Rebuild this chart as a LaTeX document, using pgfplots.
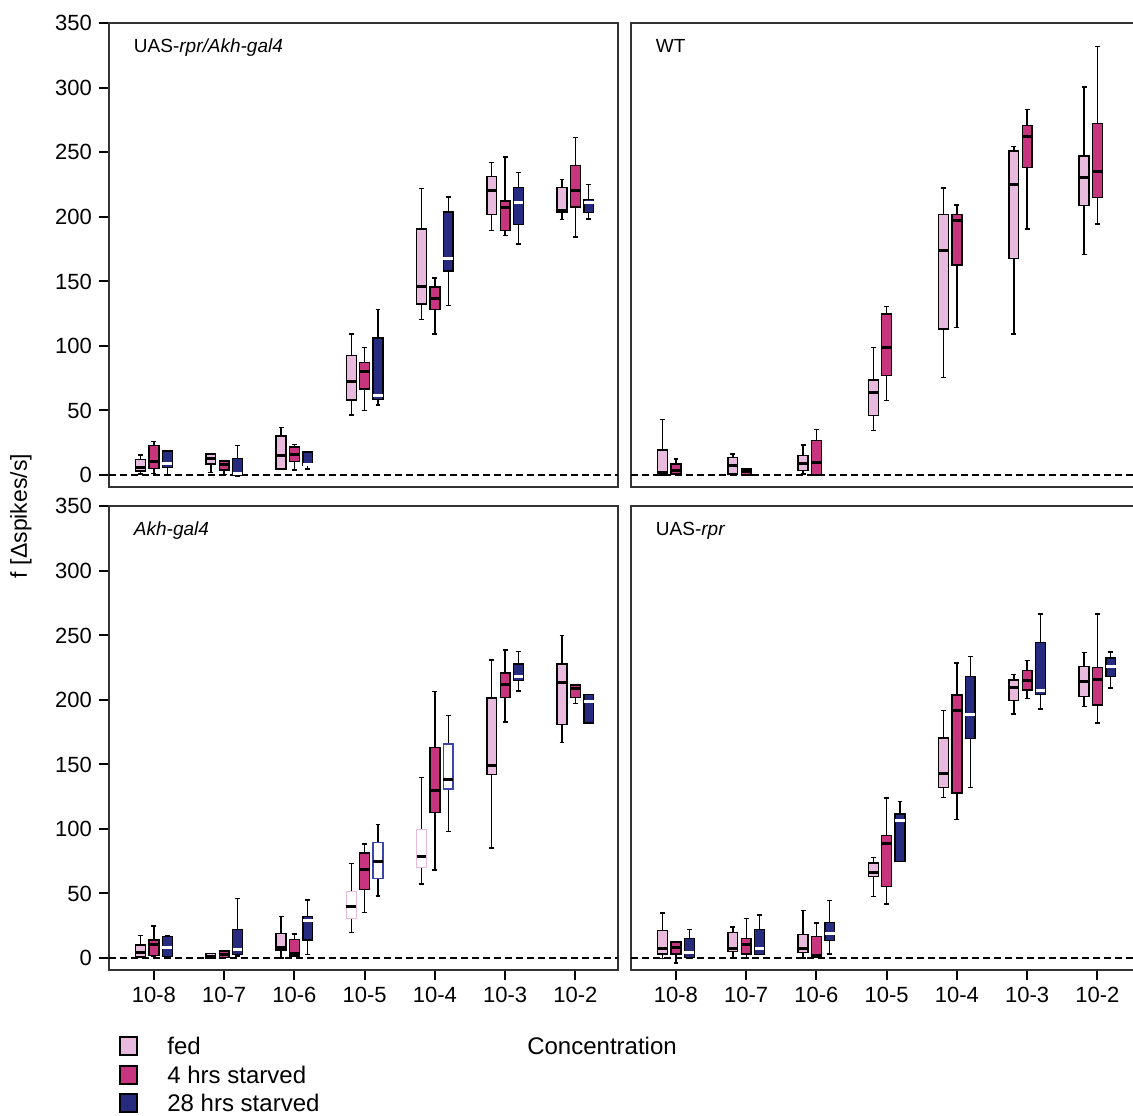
\documentclass[border=0pt]{standalone}
\usepackage{fontspec}
\setmainfont{Liberation Sans}
\usepackage{pgfplots}
\pgfplotsset{compat=1.18}
\usepgfplotslibrary{statistics}

\definecolor{fedc}{RGB}{232,186,222}
\definecolor{st4c}{RGB}{200,53,127}
\definecolor{st28c}{RGB}{38,43,128}
\definecolor{outblue}{RGB}{60,70,170}

\pgfplotsset{
  panel/.style={
    scale only axis, width=254.25pt, height=231.8pt,
    xmin=0.36, xmax=7.6, ymin=-9.3, ymax=350,
    axis line style={line width=1pt, black!80},
    tick style={line width=1pt, black},
    tick align=outside, major tick length=5pt,
    xtick={1,...,7},
    xticklabels={10-8,10-7,10-6,10-5,10-4,10-3,10-2},
    ytick={0,50,...,350},
    xtick pos=lower, ytick pos=left,
    tick label style={font=\fontsize{11}{13}\selectfont},
    /pgf/number format/assume math mode=true,
    boxplot/draw direction=y,
    boxplot/box extend=0.14, boxplot/whisker extend=0.07,
  },
  fed/.style={fill=fedc, draw=black, line width=0.7pt,
    boxplot/every median/.style={draw=black, line width=1.5pt},
    boxplot/every whisker/.style={draw=black}},
  st4/.style={fill=st4c, draw=black, line width=0.7pt,
    boxplot/every median/.style={draw=black, line width=1.5pt},
    boxplot/every whisker/.style={draw=black}},
  st28/.style={fill=st28c, draw=black, line width=0.7pt,
    boxplot/every median/.style={draw=white, line width=1.5pt},
    boxplot/every whisker/.style={draw=black}},
  fedo/.style={fill=white, draw=fedc, line width=0.7pt,
    boxplot/every median/.style={draw=black, line width=1.5pt},
    boxplot/every whisker/.style={draw=black}},
  st28o/.style={fill=white, draw=outblue, line width=0.7pt,
    boxplot/every median/.style={draw=black, line width=1.5pt},
    boxplot/every whisker/.style={draw=black}},
}

% style, position, lower whisker, lower quartile, median, upper quartile, upper whisker
\newcommand\bx[7]{\addplot[#1, boxplot prepared={draw direction=y, draw position=#2,
  lower whisker=#3, lower quartile=#4, median=#5,
  upper quartile=#6, upper whisker=#7}] coordinates {};}
\newcommand\zeroline{\addplot[black, mark=none, line width=0.9pt,
  dash pattern=on 3.5pt off 2pt] coordinates {(0.36,0) (7.6,0)};}
\newcommand\ttl[1]{\node[anchor=base west, inner sep=0,
  font=\fontsize{9.5}{11}\selectfont] at (axis cs:0.71,327.5) {#1};}

\begin{document}
\begin{tikzpicture}
\useasboundingbox (0,0) rectangle (566.5pt,557.5pt);
\clip (0,0) rectangle (566.5pt,557.5pt);

% UAS-rpr/Akh-gal4
\begin{axis}[panel, at={(54.5pt,314pt)}, anchor=south west, xtick=\empty]
\zeroline
\bx{fed}{0.81}{0.8}{3.1}{6}{12.2}{15.5}
\bx{st4}{1.0}{1.3}{4.9}{10.8}{22.7}{25.8}
\bx{st28}{1.19}{0.5}{5.7}{9}{18.6}{18.6}
\bx{fed}{1.81}{1.8}{8.5}{12.6}{16.3}{16.5}
\bx{st4}{2.0}{0.5}{3.9}{8}{11}{11}
\bx{st28}{2.19}{-1}{0}{0.8}{12.6}{23}
\bx{fed}{2.81}{4.6}{4.6}{15}{30.2}{36.6}
\bx{st4}{3.0}{3.9}{10.3}{16}{21.7}{23.8}
\bx{st28}{3.19}{4.6}{7.5}{8.5}{17.8}{17.8}
\bx{fed}{3.81}{46.5}{58.1}{72.8}{92.4}{109.2}
\bx{st4}{4.0}{49.8}{66.6}{80}{87}{98.9}
\bx{st28}{4.19}{54.2}{58.6}{62}{106.3}{128.3}
\bx{fed}{4.81}{120.6}{132.4}{145.8}{190.7}{222}
\bx{st4}{5.0}{109.2}{128.3}{136.5}{145.6}{152.8}
\bx{st28}{5.19}{131.4}{158}{167.8}{203.7}{215.5}
\bx{fed}{5.81}{189.7}{201.9}{220.4}{231.3}{242.4}
\bx{st4}{6.0}{185.8}{189.7}{207}{212.5}{246.5}
\bx{st28}{6.19}{179.1}{194.1}{210.9}{222.8}{234.6}
\bx{fed}{6.81}{198.2}{203.9}{205}{222.8}{229.2}
\bx{st4}{7.0}{184.5}{207.8}{220.7}{240}{261.7}
\bx{st28}{7.19}{198.5}{203.4}{210.9}{213.5}{225.3}
\ttl{UAS-\textit{rpr/Akh-gal4}}
\end{axis}

% WT
\begin{axis}[panel, at={(315.5pt,314pt)}, anchor=south west, xtick=\empty, ytick=\empty]
\zeroline
\bx{fed}{0.81}{0}{0}{1.8}{19.4}{43.1}
\bx{st4}{1.0}{0.8}{0.8}{3.4}{8.5}{12.4}
\bx{fed}{1.81}{0}{0.8}{7.5}{13.7}{16.3}
\bx{st4}{2.0}{0}{0}{2.6}{4.6}{4.6}
\bx{fed}{2.81}{0.8}{3.4}{9}{15}{23.2}
\bx{st4}{3.0}{0}{0}{9.8}{26.6}{35.4}
\bx{fed}{3.81}{34.3}{45.9}{63.8}{73.6}{98.6}
\bx{st4}{4.0}{57.6}{76.9}{98.6}{124.7}{130.4}
\bx{fed}{4.81}{75.6}{113.1}{173.7}{201.9}{222.5}
\bx{st4}{5.0}{114.1}{162.6}{197.5}{202.1}{209.1}
\bx{fed}{5.81}{109.2}{167.8}{225}{251.1}{254.8}
\bx{st4}{6.0}{190.5}{238.4}{262}{271}{283.2}
\bx{fed}{6.81}{170.9}{209}{230.2}{247.3}{300.7}
\bx{st4}{7.0}{194.4}{215}{235.4}{272.3}{332.2}
\ttl{WT}
\end{axis}

% Akh-gal4
\begin{axis}[panel, at={(54.5pt,72.5pt)}, anchor=south west]
\zeroline
\bx{fed}{0.81}{0.4}{1.2}{4.5}{10.2}{17.4}
\bx{st4}{1.0}{1}{1.9}{10.2}{14.1}{24.9}
\bx{st28}{1.19}{0.4}{1.2}{8.4}{16.6}{17.4}
\bx{fed}{1.81}{-0.6}{-0.6}{1.5}{3.7}{3.7}
\bx{st4}{2.0}{0.2}{0.2}{2.8}{5.3}{5.3}
\bx{st28}{2.19}{1.7}{2.7}{6.3}{22.3}{46}
\bx{fed}{2.81}{0}{6.3}{8.4}{19}{32.1}
\bx{st4}{3.0}{1}{1.7}{3.2}{14.3}{18.7}
\bx{st28}{3.19}{2.5}{14.1}{29}{32.4}{45}
\bx{fedo}{3.81}{19.7}{30.8}{39.9}{51.7}{73.4}
\bx{st4}{4.0}{35.2}{53}{68.3}{81.4}{88.4}
\bx{st28o}{4.19}{48.2}{61.6}{74.5}{89.4}{103.4}
\bx{fedo}{4.81}{57.5}{70.3}{78.4}{99.5}{140}
\bx{st4}{5.0}{68.3}{112.9}{129.5}{163.2}{206.4}
\bx{st28o}{5.19}{98.2}{131}{138.5}{165.9}{188}
\bx{fed}{5.81}{85.3}{142.1}{149.3}{201.5}{230.9}
\bx{st4}{6.0}{182.9}{202}{211.6}{220.8}{238.7}
\bx{st28}{6.19}{206.9}{214.9}{218}{227.8}{237.6}
\bx{fed}{6.81}{166.9}{180.8}{213.9}{227.8}{250}
\bx{st4}{7.0}{197.3}{202}{208.5}{211.6}{211.6}
\bx{st28}{7.19}{182.1}{182.1}{198.9}{204}{204}
\ttl{\textit{Akh-gal4}}
\end{axis}

% UAS-rpr
\begin{axis}[panel, at={(315.5pt,72.5pt)}, anchor=south west, ytick=\empty]
\zeroline
\bx{fed}{0.81}{-0.5}{3.2}{7.6}{21.3}{35}
\bx{st4}{1.0}{-4}{3.2}{8.4}{12.5}{12.5}
\bx{st28}{1.19}{0.6}{0.6}{4.5}{14.9}{22.1}
\bx{fed}{1.81}{0}{5}{7.1}{20}{23.9}
\bx{st4}{2.0}{0}{3.2}{10.2}{14.9}{30.8}
\bx{st28}{2.19}{2.7}{2.7}{7.1}{22.1}{33.4}
\bx{fed}{2.81}{0}{4.5}{7.6}{18}{36.8}
\bx{st4}{3.0}{0.6}{0.6}{1.9}{16.6}{27}
\bx{st28}{3.19}{3.2}{13.5}{18.7}{27.7}{44.5}
\bx{fed}{3.81}{47.6}{63.1}{66.5}{73.7}{78}
\bx{st4}{4.0}{42}{55.4}{88.9}{94.9}{124}
\bx{st28}{4.19}{75}{75}{106.5}{111.7}{121.4}
\bx{fed}{4.81}{124.5}{132.3}{143.1}{170.5}{191.7}
\bx{st4}{5.0}{107.2}{127.9}{192.2}{203.8}{228.6}
\bx{st28}{5.19}{132.3}{170.2}{189.1}{218}{233.7}
\bx{fed}{5.81}{189.1}{199.4}{209.5}{215.4}{219.5}
\bx{st4}{6.0}{200.9}{207.7}{214.9}{222.6}{230.4}
\bx{st28}{6.19}{193}{204}{207.1}{244.5}{266.5}
\bx{fed}{6.81}{194.7}{202.7}{214.3}{225.7}{236.8}
\bx{st4}{7.0}{182.1}{196.1}{216.2}{225.2}{266.5}
\bx{st28}{7.19}{209.2}{218}{226}{232.5}{237.3}
\ttl{UAS-\textit{rpr}}
\end{axis}

\node[rotate=90, font=\fontsize{11.5}{13}\selectfont] at (10.5pt,299.5pt) {f [Δspikes/s]};
\node[font=\fontsize{12}{14}\selectfont] at (301pt,34.5pt) {Concentration};

\draw[fill=fedc, line width=0.6pt] (60pt,30pt) rectangle ++(8.5pt,9pt);
\draw[fill=st4c, line width=0.6pt] (60pt,15.5pt) rectangle ++(8.5pt,9pt);
\draw[fill=st28c, line width=0.6pt] (60pt,1.5pt) rectangle ++(8.5pt,9pt);
\begin{scope}[every node/.style={anchor=west, inner sep=0, font=\fontsize{12}{14}\selectfont}]
\node at (83.5pt,34.5pt) {fed};
\node at (83.5pt,20pt) {4 hrs starved};
\node at (83.5pt,6pt) {28 hrs starved};
\end{scope}
\end{tikzpicture}
\end{document}
